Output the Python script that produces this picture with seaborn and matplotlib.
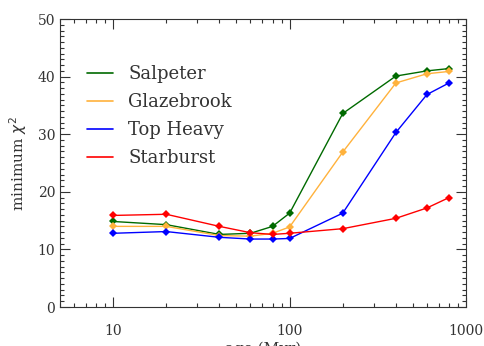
import numpy as np
import pandas as pd
import matplotlib
matplotlib.use("Agg")
import matplotlib.pyplot as plt
import matplotlib.ticker as mticker
import seaborn as sns

# values
ages = [10, 20, 40, 60, 80, 100, 200, 400, 600, 800]
salpeter = [14.85, 14.3, 12.6, 12.8, 14.0, 16.3, 33.6, 40.1, 41.0, 41.4]
glazebrook = [14.0, 14.0, 12.4, 12.3, 12.8, 13.9, 26.9, 38.9, 40.5, 40.9]
top_heavy = [12.8, 13.1, 12.1, 11.8, 11.8, 11.9, 16.3, 30.3, 36.9, 38.9]
starburst = [15.9, 16.1, 14.0, 12.9, 12.6, 12.8, 13.6, 15.4, 17.2, 19.0]

names = ["Salpeter", "Glazebrook", "Top Heavy", "Starburst"]
colors = ["#006a00", "#ffb23c", "#0000ff", "#ff0000"]

df = pd.DataFrame({
    "age": ages * 4,
    "chi2": salpeter + glazebrook + top_heavy + starburst,
    "imf": [n for n in names for _ in ages],
})

sns.set_style("ticks")
plt.rcParams["font.family"] = ["DejaVu Serif"]
plt.rcParams["text.color"] = "#333333"

fig = plt.figure(figsize=(4.85, 3.46), dpi=100)
ax = fig.add_axes([0.1237, 0.1127, 0.8374, 0.8323])

sns.lineplot(data=df, x="age", y="chi2", hue="imf", hue_order=names,
             palette=colors, marker="D", markersize=4.5, markeredgewidth=0,
             linewidth=1, ax=ax)

ax.set_xscale("log")
ax.set_xlim(5, 1000)
ax.set_ylim(0, 50)
ax.xaxis.set_major_locator(mticker.FixedLocator([10, 100, 1000]))
ax.xaxis.set_major_formatter(mticker.FixedFormatter(["10", "100", "1000"]))
ax.xaxis.set_minor_locator(mticker.LogLocator(base=10, subs=np.arange(2, 10)))
ax.xaxis.set_minor_formatter(mticker.NullFormatter())
ax.yaxis.set_major_locator(mticker.MultipleLocator(10))
ax.yaxis.set_minor_locator(mticker.MultipleLocator(1))

ax.tick_params(which="both", direction="in", top=True, right=True,
               color="#333333", labelcolor="#333333", labelsize=10)
ax.tick_params(which="major", length=7, width=0.8)
ax.tick_params(which="minor", length=3, width=0.8)
ax.tick_params(axis="x", pad=12)
for s in ax.spines.values():
    s.set_color("#333333")
    s.set_linewidth(0.8)

ax.set_xlabel("age (Myr)", fontsize=11, color="#333333", labelpad=3)
ax.set_ylabel(r"minimum $\chi^2$", fontsize=11, color="#333333", labelpad=6)

leg = ax.legend(loc="upper left", bbox_to_anchor=(0.066, 0.84), frameon=False,
                fontsize=13, handlelength=1.45, handletextpad=0.85,
                labelspacing=0.55, borderpad=0, borderaxespad=0)
for line in leg.get_lines():
    line.set_marker("")
    line.set_linewidth(1.2)

fig.savefig("out.png", dpi=100)
